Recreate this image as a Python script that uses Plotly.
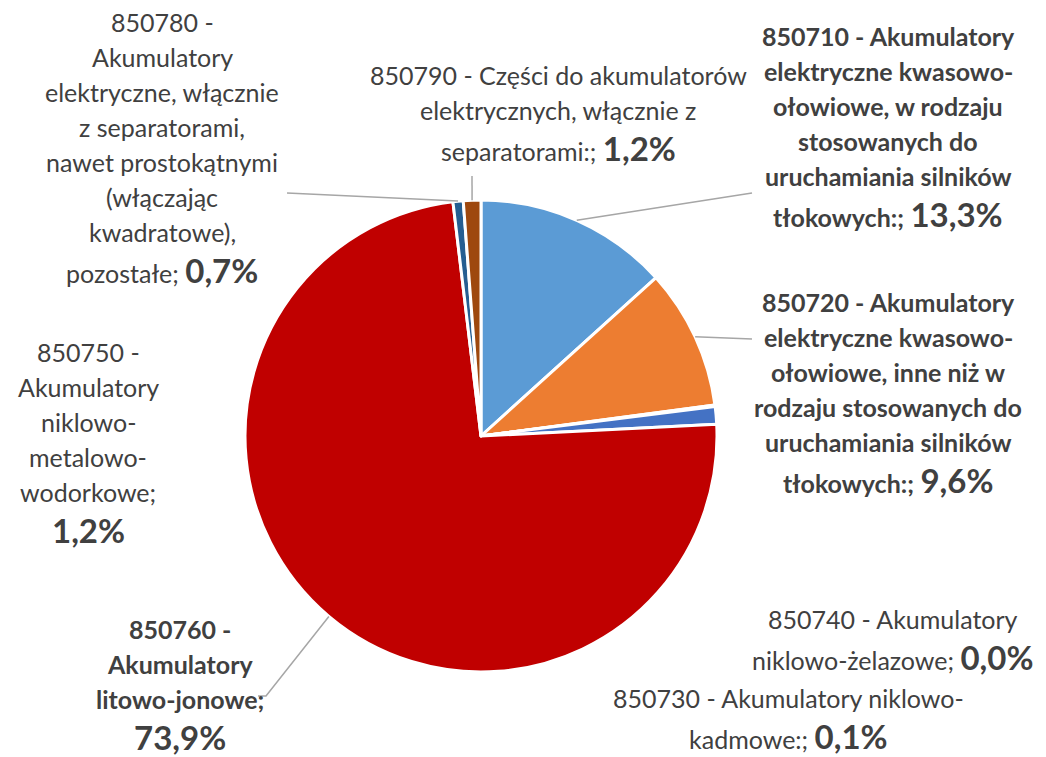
import math
import plotly.graph_objects as go

W, H = 1046, 757

# data
codes = ["850710", "850720", "850730", "850740", "850750", "850760", "850780", "850790"]
shares = [13.3, 9.6, 0.1, 0.0, 1.2, 73.9, 0.7, 1.2]
colors = ["#5B9BD5", "#ED7D31", "#A5A5A5", "#FFC000", "#4472C4", "#C00000", "#255E91", "#9E480E"]

# label text, broken into lines as in the original (percentage added to the last line)
label_lines = [
    ["850710 - Akumulatory", "elektryczne kwasowo-", "ołowiowe, w rodzaju", "stosowanych do",
     "uruchamiania silników", "tłokowych:;"],
    ["850720 - Akumulatory", "elektryczne kwasowo-", "ołowiowe, inne niż w", "rodzaju stosowanych do",
     "uruchamiania silników", "tłokowych:;"],
    ["850730 - Akumulatory niklowo-", "kadmowe:;"],
    ["850740 - Akumulatory", "niklowo-żelazowe;"],
    ["850750 -", "Akumulatory", "niklowo-", "metalowo-", "wodorkowe;", ""],
    ["850760 -", "Akumulatory", "litowo-jonowe;", ""],
    ["850780 -", "Akumulatory", "elektryczne, włącznie", "z separatorami,", "nawet prostokątnymi",
     "(włączając", "kwadratowe),", "pozostałe;"],
    ["850790 - Części do akumulatorów", "elektrycznych, włącznie z", "separatorami:;"],
]
bold_labels = [True, True, False, False, False, True, False, False]

# label layout (pixels): centre x, first line y
label_pos = [(888, 36), (888, 302), (788, 698), (893, 619), (88, 352), (180, 629), (162, 22), (558, 75)]
# where each leader line ends near its label (None = no line)
leader_end = [(752, 193), (752, 339), None, None, None, [(266, 696), (258, 696)], [(287, 193)], [(472, 176)]]

CX, CY, R = 481, 436, 236
LH = 35
FONT = "Lato"
TXT = "#404040"


def px(x):
    return x / W


def py(y):
    return 1 - y / H


fig = go.Figure(go.Pie(
    labels=codes,
    values=shares,
    sort=False,
    direction="clockwise",
    marker=dict(colors=colors, line=dict(color="white", width=3)),
    textinfo="none",
    hoverinfo="label+percent",
    domain=dict(x=[px(CX - R), px(CX + R)], y=[py(CY + R), py(CY - R)]),
))

total = sum(shares)
cum = 0.0
for i, v in enumerate(shares):
    mid = (cum + v / 2) / total * 2 * math.pi
    cum += v
    # labels
    pct = f"{v:.1f}".replace(".", ",") + "%"
    cx, y0 = label_pos[i]
    lines = label_lines[i]
    for j, line in enumerate(lines):
        last = j == len(lines) - 1
        txt = f"<b>{line}</b>" if bold_labels[i] else line
        if last:
            sep = " " if line else ""
            txt = txt + sep + f"<span style='font-size:33px'><b>{pct}</b></span>"
        y = y0 + j * LH + (3 if last else 0)
        fig.add_annotation(x=px(cx), y=py(y), xref="paper", yref="paper",
                           text=txt, showarrow=False, xanchor="center", yanchor="middle",
                           font=dict(family=FONT, size=25, color=TXT))
    # leader lines from the slice middle on the rim
    end = leader_end[i]
    if end is None:
        continue
    pts = [(CX + R * math.sin(mid), CY - R * math.cos(mid))]
    pts += end if isinstance(end, list) else [end]
    path = "M " + " L ".join(f"{px(a):.5f},{py(b):.5f}" for a, b in pts)
    fig.add_shape(type="path", path=path, xref="paper", yref="paper",
                  line=dict(color="#A6A6A6", width=1.5))

fig.update_layout(
    width=W, height=H,
    margin=dict(l=0, r=0, t=0, b=0),
    showlegend=False,
    paper_bgcolor="white",
    font=dict(family=FONT, color=TXT),
)

# drop the browser's default body margin so the figure fills the window exactly
fig.write_html("out.html", config={"displayModeBar": False},
               post_script="document.body.style.margin='0';")
